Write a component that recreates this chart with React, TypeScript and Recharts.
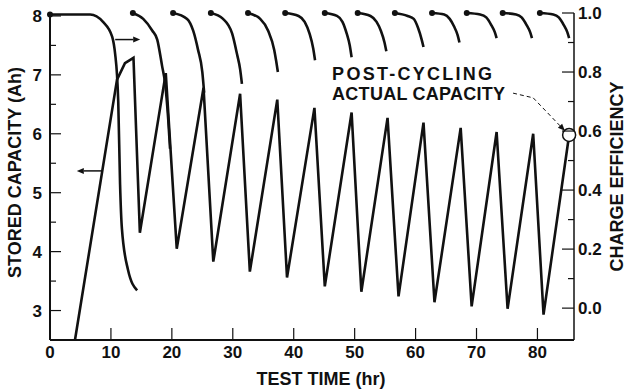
import React from 'react';
import {
  ComposedChart,
  Line,
  XAxis,
  YAxis,
  ReferenceLine,
  ReferenceDot,
  Label,
} from 'recharts';

const INK = '#111';
const FONT = '"Liberation Sans", Arial, Helvetica, sans-serif';

// stored capacity (Ah) against test time (hr)
const capacityHours = [
  4.1, 11.0, 12.3, 13.7, 14.75, 19.0, 20.8, 25.2, 26.8, 31.2, 32.8, 37.3, 38.9, 43.4, 45.1,
  49.5, 51.1, 55.4, 57.2, 61.3, 63.1, 67.4, 69.2, 73.3, 75.1, 79.3, 81.0, 85.2,
];
const capacityAh = [
  2.5, 6.92, 7.2, 7.29, 4.32, 7.03, 4.05, 6.78, 3.83, 6.68, 3.66, 6.58, 3.56, 6.44, 3.41,
  6.36, 3.32, 6.27, 3.24, 6.19, 3.14, 6.1, 3.07, 6.03, 3.03, 6.0, 2.93, 5.98,
];

// charge efficiency, one curve per charge period: [hr, efficiency]
const efficiencyCurves: [number, number][][] = [
  [[0, 0.995], [6.6, 0.995], [8.7, 0.97], [10.2, 0.92], [10.7, 0.86], [11.0, 0.79], [11.2, 0.7], [11.5, 0.42], [11.8, 0.27], [12.8, 0.13], [14.3, 0.06]],
  [[13.6, 1.0], [15.3, 0.98], [16.8, 0.94], [17.6, 0.91], [18.4, 0.82], [18.9, 0.76], [19.4, 0.64], [19.7, 0.54]],
  [[20.2, 1.0], [22.5, 0.98], [23.5, 0.94], [24.3, 0.875], [25.0, 0.8], [25.3, 0.73]],
  [[26.4, 1.0], [28.4, 0.98], [29.9, 0.93], [30.7, 0.86], [31.2, 0.81], [31.5, 0.76]],
  [[32.5, 1.0], [34.5, 0.98], [35.8, 0.94], [36.8, 0.875], [37.1, 0.84], [37.4, 0.8]],
  [[38.6, 1.0], [40.8, 0.99], [41.8, 0.97], [42.6, 0.93], [43.2, 0.88], [43.5, 0.84]],
  [[45.1, 1.0], [47.1, 0.99], [48.0, 0.97], [48.7, 0.93], [49.2, 0.89], [49.5, 0.85]],
  [[50.5, 1.0], [52.6, 0.99], [53.6, 0.97], [54.3, 0.94], [54.9, 0.9], [55.2, 0.87]],
  [[56.6, 1.0], [58.7, 0.99], [59.7, 0.98], [60.4, 0.95], [61.0, 0.91], [61.3, 0.885]],
  [[62.7, 1.0], [64.7, 0.995], [65.6, 0.98], [66.3, 0.955], [66.9, 0.925], [67.2, 0.9]],
  [[68.4, 1.0], [70.6, 0.995], [71.6, 0.985], [72.4, 0.96], [73.0, 0.935], [73.3, 0.915]],
  [[74.3, 1.0], [76.5, 0.995], [77.4, 0.985], [78.2, 0.96], [78.8, 0.935], [79.1, 0.915]],
  [[80.4, 1.0], [82.6, 0.995], [83.5, 0.985], [84.3, 0.96], [84.9, 0.935], [85.2, 0.915]],
];

const timeTicks = [0, 10, 20, 30, 40, 50, 60, 70, 80];
const capacityTicks = [3, 3.5, 4, 4.5, 5, 5.5, 6, 6.5, 7, 7.5, 8];
const efficiencyTicks = [0, 0.1, 0.2, 0.3, 0.4, 0.5, 0.6, 0.7, 0.8, 0.9, 1.0];

const postCycling = { hr: 85.2, ah: 5.98 };
const noteAt = { hr: 46.3, ah: 6.91 };
const noteLines = ['POST-CYCLING', 'ACTUAL CAPACITY'];
const leader = [
  { x: 76.0, y: 6.69 },
  { x: 79.3, y: 6.61 },
  { x: 84.5, y: 6.05 },
];
const efficiencyArrow = [{ x: 10.7, y: 0.91 }, { x: 14.8, y: 0.91 }];
const capacityArrow = [{ x: 8.5, y: 5.37 }, { x: 4.4, y: 5.37 }];

const capacityData = capacityHours.map((hr, i) => ({ hr, ah: capacityAh[i] }));
const efficiencyData = efficiencyCurves.flatMap((curve) => [
  ...curve.map(([hr, eff], i) => ({ hr, eff, first: i === 0 })),
  { hr: curve[curve.length - 1][0], eff: null, first: false },
]);

const tickText = { fontFamily: FONT, fontSize: 17, fontWeight: 700, fill: INK };
const titleText = { fontFamily: FONT, fontSize: 18, fontWeight: 700, fill: INK };

const LEFT_GAP = 8;
const RIGHT_GAP = 4;
const BOTTOM_GAP = 6;

const LeftTick = (props: any) => {
  const { x, y, payload } = props;
  const major = Number.isInteger(payload.value);
  const axisX = x + LEFT_GAP;
  return (
    <g>
      <line x1={axisX} x2={axisX + (major ? 11 : 6)} y1={y} y2={y} stroke={INK} strokeWidth={1.2} />
      {major && (
        <text x={x} y={y} dy="0.36em" textAnchor="end" {...tickText}>
          {payload.value}
        </text>
      )}
    </g>
  );
};

const RightTick = (props: any) => {
  const { x, y, payload } = props;
  const major = Math.round(payload.value * 10) % 2 === 0;
  const axisX = x - RIGHT_GAP;
  return (
    <g>
      <line x1={axisX} x2={axisX - (major ? 12 : 6)} y1={y} y2={y} stroke={INK} strokeWidth={1.2} />
      {major && (
        <text x={x} y={y} dy="0.36em" textAnchor="start" {...tickText}>
          {payload.value.toFixed(1)}
        </text>
      )}
    </g>
  );
};

const BottomTick = (props: any) => {
  const { x, y, payload } = props;
  const axisY = y - BOTTOM_GAP;
  return (
    <g>
      {payload.value !== 0 && (
        <line x1={x} x2={x} y1={axisY} y2={axisY - 12} stroke={INK} strokeWidth={1.2} />
      )}
      <text x={x} y={y} dy="0.72em" textAnchor="middle" {...tickText}>
        {payload.value}
      </text>
    </g>
  );
};

const arrowShape = (dash?: string) => (p: any) => {
  const { x1, y1, x2, y2 } = p;
  const a = Math.atan2(y2 - y1, x2 - x1);
  const len = 7;
  const w = 3;
  const bx = x2 - len * Math.cos(a);
  const by = y2 - len * Math.sin(a);
  const head = `${x2},${y2} ${bx - w * Math.sin(a)},${by + w * Math.cos(a)} ${bx + w * Math.sin(a)},${by - w * Math.cos(a)}`;
  return (
    <g>
      <line x1={x1} y1={y1} x2={bx} y2={by} stroke={INK} strokeWidth={dash ? 1 : 1.5} strokeDasharray={dash} />
      <polygon points={head} fill={INK} />
    </g>
  );
};

const plainShape = (dash: string) => (p: any) => (
  <line x1={p.x1} y1={p.y1} x2={p.x2} y2={p.y2} stroke={INK} strokeWidth={1} strokeDasharray={dash} />
);

const StartDot = (props: any) => {
  const { cx, cy, payload, index } = props;
  if (!payload || !payload.first || cy == null) return <g key={index} />;
  return <circle key={index} cx={cx} cy={cy} r={3} fill={INK} />;
};

const NoteShape = (props: any) => {
  const { cx, cy } = props;
  return (
    <g>
      <text x={cx} y={cy} textLength={160} lengthAdjust="spacing" {...titleText}>
        {noteLines[0]}
      </text>
      <text x={cx} y={cy + 20} textLength={173} lengthAdjust="spacing" {...titleText}>
        {noteLines[1]}
      </text>
    </g>
  );
};

export default function App() {
  return (
    <div style={{ position: 'absolute', left: 0, top: 0, width: 627, height: 391, background: '#fff' }}>
      <ComposedChart width={627} height={391} margin={{ top: 13, right: 0, bottom: 0, left: 0 }}>
        <XAxis
          dataKey="hr"
          type="number"
          domain={[0, 86]}
          ticks={timeTicks}
          interval={0}
          height={51}
          tickSize={0}
          tickMargin={BOTTOM_GAP}
          tickLine={false}
          axisLine={{ stroke: INK, strokeWidth: 2 }}
          tick={<BottomTick />}
        >
          <Label
            content={(p: any) => (
              <text
                x={p.viewBox.x + p.viewBox.width / 2 + 9}
                y={p.viewBox.y + p.viewBox.height - 6}
                textAnchor="middle"
                {...titleText}
              >
                TEST TIME (hr)
              </text>
            )}
          />
        </XAxis>
        <YAxis
          yAxisId="cap"
          orientation="left"
          domain={[2.5, 8.05]}
          ticks={capacityTicks}
          interval={0}
          width={50}
          tickSize={0}
          tickMargin={LEFT_GAP}
          tickLine={false}
          axisLine={{ stroke: INK, strokeWidth: 2 }}
          tick={<LeftTick />}
        >
          <Label
            content={(p: any) => {
              const cx = p.viewBox.x + 15;
              const cy = p.viewBox.y + p.viewBox.height / 2 - 4;
              return (
                <text x={cx} y={cy} dy="0.36em" textAnchor="middle" transform={`rotate(-90 ${cx} ${cy})`} {...titleText}>
                  STORED CAPACITY (Ah)
                </text>
              );
            }}
          />
        </YAxis>
        <YAxis
          yAxisId="eff"
          orientation="right"
          domain={[-0.108, 1.0]}
          ticks={efficiencyTicks}
          interval={0}
          width={53}
          tickSize={0}
          tickMargin={RIGHT_GAP}
          tickLine={false}
          axisLine={{ stroke: INK, strokeWidth: 1.5 }}
          tick={<RightTick />}
        >
          <Label
            content={(p: any) => {
              const cx = p.viewBox.x + 43;
              const cy = p.viewBox.y + p.viewBox.height / 2;
              return (
                <text x={cx} y={cy} dy="0.36em" textAnchor="middle" transform={`rotate(-90 ${cx} ${cy})`} {...titleText}>
                  CHARGE EFFICIENCY
                </text>
              );
            }}
          />
        </YAxis>

        <Line
          yAxisId="cap"
          data={capacityData}
          dataKey="ah"
          type="linear"
          stroke={INK}
          strokeWidth={2.6}
          strokeLinejoin="miter"
          dot={false}
          activeDot={false}
          isAnimationActive={false}
        />
        <Line
          yAxisId="eff"
          data={efficiencyData}
          dataKey="eff"
          type="monotone"
          stroke={INK}
          strokeWidth={2.6}
          connectNulls={false}
          dot={StartDot}
          activeDot={false}
          isAnimationActive={false}
        />

        <ReferenceLine yAxisId="eff" segment={efficiencyArrow} shape={arrowShape()} />
        <ReferenceLine yAxisId="cap" segment={capacityArrow} shape={arrowShape()} />
        <ReferenceLine yAxisId="cap" segment={[leader[0], leader[1]]} shape={plainShape('4 3')} />
        <ReferenceLine yAxisId="cap" segment={[leader[1], leader[2]]} shape={arrowShape('4 3')} />
        <ReferenceDot yAxisId="cap" x={noteAt.hr} y={noteAt.ah} r={0} shape={NoteShape} />
        <ReferenceDot
          yAxisId="cap"
          x={postCycling.hr}
          y={postCycling.ah}
          r={6.5}
          fill="#fff"
          stroke={INK}
          strokeWidth={1.5}
        />
      </ComposedChart>
    </div>
  );
}
